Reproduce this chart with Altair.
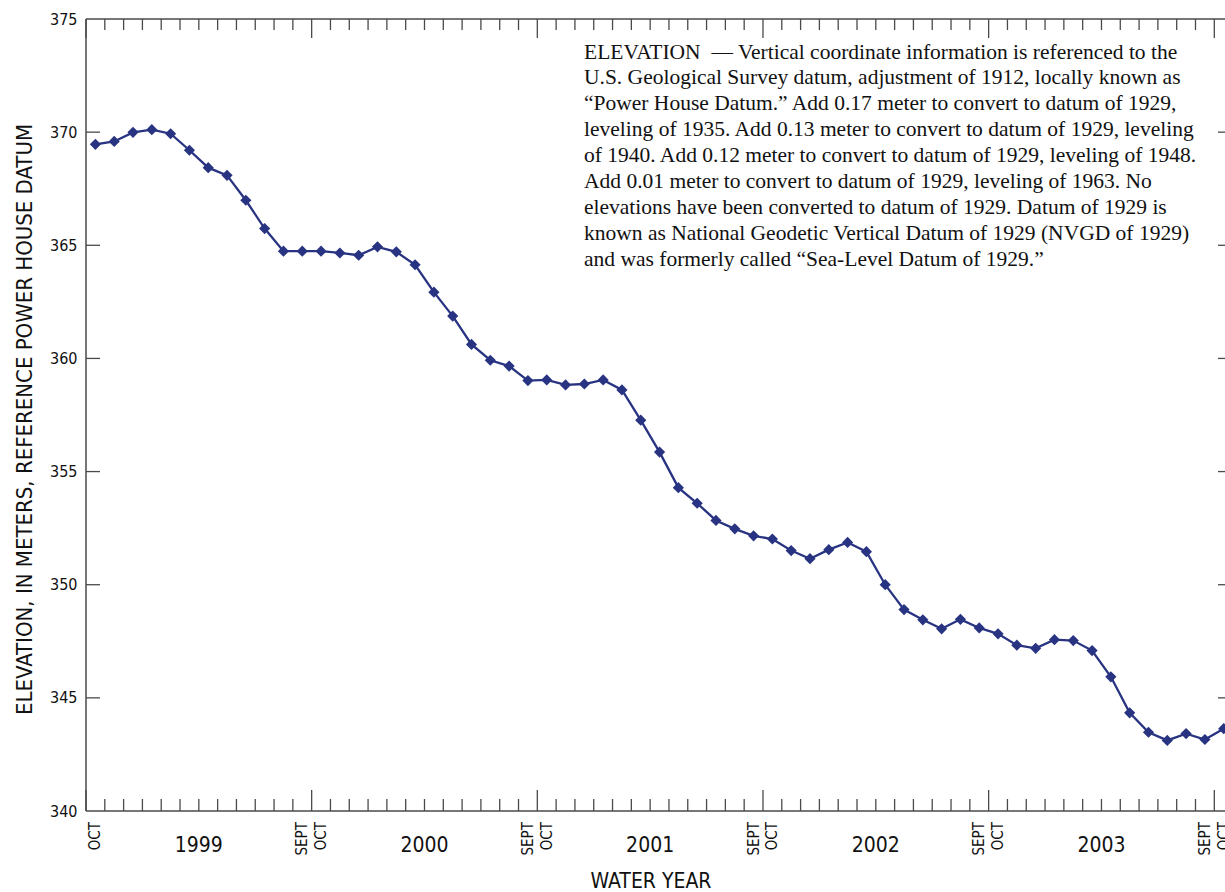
import altair as alt
import pandas as pd

# ---------------- data ----------------
month_names = ["Oct", "Nov", "Dec", "Jan", "Feb", "Mar", "Apr", "May", "Jun",
               "Jul", "Aug", "Sep"] * 5 + ["Oct"]

elevation = [
    369.46, 369.59, 369.99, 370.11, 369.93, 369.20, 368.43, 368.09, 366.99, 365.74, 364.74, 364.74,
    364.74, 364.66, 364.56, 364.93, 364.71, 364.14, 362.93, 361.87, 360.62, 359.92, 359.66, 359.02,
    359.05, 358.83, 358.87, 359.05, 358.61, 357.27, 355.86, 354.29, 353.60, 352.84, 352.47, 352.16,
    352.02, 351.51, 351.15, 351.55, 351.87, 351.46, 350.00, 348.90, 348.45, 348.05, 348.47, 348.09,
    347.83, 347.33, 347.19, 347.57, 347.53, 347.09, 345.93, 344.34, 343.48, 343.12, 343.42, 343.16,
    343.64,
]

water_years = ["1999", "2000", "2001", "2002", "2003"]
y_ticks = [340, 345, 350, 355, 360, 365, 370, 375]
y_inner_ticks = [345, 350, 355, 360, 365, 370]

note_lines = [
    "ELEVATION\u00a0\u00a0\u2014 Vertical coordinate information is referenced to the",
    "U.S. Geological Survey datum, adjustment of 1912, locally known as",
    "\u201cPower House Datum.\u201d Add 0.17 meter to convert to datum of 1929,",
    "leveling of 1935. Add 0.13 meter to convert to datum of 1929, leveling",
    "of 1940. Add 0.12 meter to convert to datum of 1929, leveling of 1948.",
    "Add 0.01 meter to convert to datum of 1929, leveling of 1963. No",
    "elevations have been converted to datum of 1929. Datum of 1929 is",
    "known as National Geodetic Vertical Datum of 1929 (NVGD of 1929)",
    "and was formerly called \u201cSea-Level Datum of 1929.\u201d",
]

# ---------------- layout / style ----------------
W, H = 1139, 792
PX_PER_MONTH = 18.805
NAVY = "#283482"
AXC = "#4a4a4a"
TXT = "#111111"
SANS = "Liberation Sans Narrow, Arial Narrow, DejaVu Sans Condensed, sans-serif"
SERIF = "Liberation Serif, Times New Roman, serif"

x_scale = alt.Scale(domain=[0, W / PX_PER_MONTH], nice=False, zero=False)
y_scale = alt.Scale(domain=[340, 375], nice=False, zero=False)

yaxis = alt.Axis(
    values=y_ticks, labelFont=SANS, labelFontSize=16, labelColor=TXT,
    labelPadding=9, ticks=False, domain=False, grid=False,
    title="ELEVATION, IN METERS, REFERENCE POWER HOUSE DATUM",
    titleFont=SANS, titleFontSize=22, titleFontWeight="normal", titleColor=TXT,
    titleAngle=270, titleX=-55, titleY=400, titleAlign="center",
    titleBaseline="alphabetic",
)

df = pd.DataFrame({"m": [i + 0.5 for i in range(len(elevation))],
                   "elev": elevation})

bounds = pd.DataFrame({"t": list(range(len(month_names))),
                       "major": [n == "Oct" for n in month_names]})
minor_b = bounds[~bounds["major"]]
major_b = bounds[bounds["major"]]

mlab = pd.DataFrame([{"p": i + 0.5, "lab": ("OCT" if n == "Oct" else "SEPT")}
                     for i, n in enumerate(month_names) if n in ("Oct", "Sep")])
ylab = pd.DataFrame({"p": [12 * k + 6 for k in range(len(water_years))],
                     "lab": water_years})
yt = pd.DataFrame({"v": y_inner_ticks})
one = pd.DataFrame({"a": [0]})

X = lambda f: alt.X(f, scale=x_scale, axis=None)

line = alt.Chart(df).mark_line(color=NAVY, strokeWidth=2.3).encode(
    x=X("m:Q"), y=alt.Y("elev:Q", scale=y_scale, axis=yaxis))
pts = alt.Chart(df).mark_point(shape="diamond", filled=True, size=125,
                               color=NAVY, opacity=1).encode(
    x=X("m:Q"), y=alt.Y("elev:Q", scale=y_scale, axis=yaxis))

rule = dict(color=AXC, strokeWidth=1.3)
bot_minor = alt.Chart(minor_b).mark_rule(**rule).encode(
    x=X("t:Q"), y=alt.value(H), y2=alt.value(H - 12))
bot_major = alt.Chart(major_b).mark_rule(**rule).encode(
    x=X("t:Q"), y=alt.value(H), y2=alt.value(H - 21))
top_minor = alt.Chart(minor_b).mark_rule(**rule).encode(
    x=X("t:Q"), y=alt.value(0), y2=alt.value(11))
top_major = alt.Chart(major_b).mark_rule(**rule).encode(
    x=X("t:Q"), y=alt.value(0), y2=alt.value(19))
left_t = alt.Chart(yt).mark_rule(**rule).encode(
    y=alt.Y("v:Q", scale=y_scale, axis=yaxis), x=alt.value(0), x2=alt.value(14))
right_t = alt.Chart(yt).mark_rule(**rule).encode(
    y=alt.Y("v:Q", scale=y_scale, axis=yaxis), x=alt.value(W - 7), x2=alt.value(W))

border = dict(color=AXC, strokeWidth=1.5)
left_b = alt.Chart(one).mark_rule(**border).encode(
    x=alt.value(0), y=alt.value(0), y2=alt.value(H))
top_b = alt.Chart(one).mark_rule(**border).encode(
    x=alt.value(0), x2=alt.value(W + 5), y=alt.value(0))
bot_b = alt.Chart(one).mark_rule(**border).encode(
    x=alt.value(0), x2=alt.value(W + 5), y=alt.value(H))

mtext = alt.Chart(mlab).mark_text(angle=270, align="right", baseline="middle",
                                  font=SANS, fontSize=15, color=TXT).encode(
    x=X("p:Q"), y=alt.value(H + 11), text="lab:N")
ytext = alt.Chart(ylab).mark_text(align="center", baseline="alphabetic",
                                  font=SANS, fontSize=21, color=TXT).encode(
    x=X("p:Q"), y=alt.value(H + 41), text="lab:N")
xtitle = alt.Chart(one).mark_text(align="center", baseline="alphabetic",
                                  font=SANS, fontSize=21, color=TXT).encode(
    x=alt.value(565), y=alt.value(H + 77), text=alt.value("WATER YEAR"))
note = alt.Chart(one).mark_text(align="left", baseline="alphabetic",
                                font=SERIF, fontSize=21.5, color=TXT,
                                lineBreak="\n", lineHeight=25.9).encode(
    x=alt.value(498), y=alt.value(39.5), text=alt.value("\n".join(note_lines)))

chart = alt.layer(
    left_b, top_b, bot_b, bot_minor, bot_major, top_minor, top_major,
    left_t, right_t, line, pts, mtext, ytext, xtitle, note,
).properties(
    width=W, height=H,
    padding={"left": 86, "top": 19, "right": 0, "bottom": 81},
    autosize=alt.AutoSizeParams(type="none"),
    background="white",
).configure_view(strokeWidth=0)

chart.save("out.html", embed_options={"renderer": "svg", "actions": False})
